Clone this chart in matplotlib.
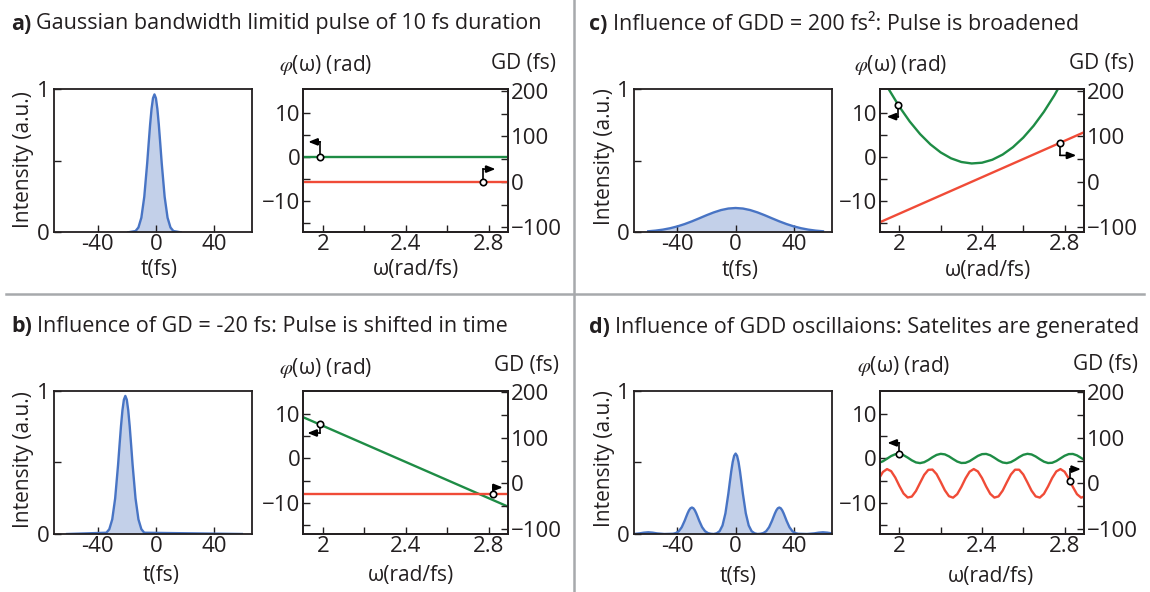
import numpy as np
import matplotlib
matplotlib.use("Agg")
import matplotlib.pyplot as plt
from matplotlib.lines import Line2D
from matplotlib.patches import FancyArrowPatch

plt.rcParams['font.family'] = ['Open Sans', 'DejaVu Sans']
plt.rcParams['mathtext.fontset'] = 'stix'

# ---------------------------------------------------------------- data
titles = [
    ("a)", "Gaussian bandwidth limitid pulse of 10 fs duration"),
    ("b)", "Influence of GD = -20 fs: Pulse is shifted in time"),
    ("c)", "Influence of GDD = 200 fs\u00b2: Pulse is broadened"),
    ("d)", "Influence of GDD oscillaions: Satelites are generated"),
]

t_ticks = [-40, 0, 40]
t_ticklabels = ["-40", "0", "40"]
w_ticks = [2.0, 2.4, 2.8]
w_ticklabels = ["2", "2.4", "2.8"]
phi_ticks = [-10, 0, 10]
phi_ticklabels = ["\u221210", "0", "10"]
gd_ticks = [-100, 0, 100, 200]
gd_ticklabels = ["\u2212100", "0", "100", "200"]

# a) bandwidth-limited pulse
t_a = [-19, -14, -12, -10, -8, -6, -5, -4, -3, -2, -1, 0, 1, 2, 3, 4, 6, 8, 10, 12, 17]
I_a = [0, 0.0089, 0.0337, 0.1021, 0.2480, 0.4825, 0.6193, 0.7519, 0.8637, 0.9386, 0.965,
       0.9386, 0.8637, 0.7519, 0.6193, 0.4825, 0.2480, 0.1021, 0.0337, 0.0089, 0]
w_a = [1.9, 2.9]
phi_a = [0.0, 0.0]
gd_a = [0.0, 0.0]

# b) GD shift
t_b = [-61, -34, -32, -30, -28, -26, -25, -24, -23, -22, -21, -20, -19, -18, -17, -16,
       -14, -12, -10, -8, 59]
I_b = [0, 0.0089, 0.0337, 0.1021, 0.2480, 0.4825, 0.6193, 0.7519, 0.8637, 0.9386, 0.965,
       0.9386, 0.8637, 0.7519, 0.6193, 0.4825, 0.2480, 0.1021, 0.0337, 0.0089, 0]
w_b = [1.9, 2.9]
phi_b = [9.4, -11.0]
gd_b = [-23.5, -23.5]

# c) GDD broadening
t_c = [-60, -55, -50, -45, -40, -35, -30, -25, -20, -15, -10, -5, 0,
       5, 10, 15, 20, 25, 30, 35, 40, 45, 50, 55, 60]
I_c = [0.0071, 0.0117, 0.0186, 0.0284, 0.0413, 0.0576, 0.0767, 0.0978, 0.1194, 0.1393,
       0.1556, 0.1663, 0.170, 0.1663, 0.1556, 0.1393, 0.1194, 0.0978, 0.0767, 0.0576,
       0.0413, 0.0284, 0.0186, 0.0117, 0.0071]
w_c = [1.90, 1.95, 2.00, 2.05, 2.10, 2.15, 2.20, 2.25, 2.30, 2.35, 2.40,
       2.45, 2.50, 2.55, 2.60, 2.65, 2.70, 2.75, 2.80, 2.85, 2.90]
phi_c = [19.48, 15.15, 11.32, 7.99, 5.16, 2.83, 1.00, -0.33, -1.16, -1.49, -1.32,
         -0.65, 0.52, 2.19, 4.36, 7.03, 10.20, 13.87, 18.04, 22.71, 27.88]
w_c_gd = [1.9, 2.9]
gd_c = [-90.0, 110.0]

# d) GDD oscillations
t_d = [-70, -66, -63, -60, -57, -54, -49,
       -43, -41, -39, -37, -35, -34, -33, -32, -31, -30, -29, -28, -27, -26, -25, -23, -21, -19, -17,
       -15,
       -13, -11, -9, -7, -5, -4, -3, -2, -1, 0, 1, 2, 3, 4, 5, 7, 9, 11, 13,
       15,
       17, 19, 21, 23, 25, 26, 27, 28, 29, 30, 31, 32, 33, 34, 35, 37, 39, 41, 43,
       49, 54, 57, 60, 63, 66]
I_d = [0, 0.0044, 0.0094, 0.012, 0.0094, 0.0044, 0,
       0.0017, 0.0065, 0.0196, 0.0476, 0.0925, 0.1187, 0.1441, 0.1656, 0.1799, 0.185,
       0.1799, 0.1656, 0.1441, 0.1187, 0.0925, 0.0476, 0.0196, 0.0065, 0.0017,
       0,
       0.0052, 0.0196, 0.0595, 0.1444, 0.2810, 0.3606, 0.4379, 0.5030, 0.5466, 0.562,
       0.5466, 0.5030, 0.4379, 0.3606, 0.2810, 0.1444, 0.0595, 0.0196, 0.0052,
       0,
       0.0017, 0.0065, 0.0196, 0.0476, 0.0925, 0.1187, 0.1441, 0.1656, 0.1799, 0.185,
       0.1799, 0.1656, 0.1441, 0.1187, 0.0925, 0.0476, 0.0196, 0.0065, 0.0017,
       0, 0.0044, 0.0094, 0.012, 0.0094, 0.0044]
w_d = [1.90, 1.92, 1.94, 1.96, 1.98, 2.00, 2.02, 2.04, 2.06, 2.08, 2.10, 2.12, 2.14,
       2.16, 2.18, 2.20, 2.22, 2.24, 2.26, 2.28, 2.30, 2.32, 2.34, 2.36, 2.38, 2.40,
       2.42, 2.44, 2.46, 2.48, 2.50, 2.52, 2.54, 2.56, 2.58, 2.60, 2.62, 2.64, 2.66,
       2.68, 2.70, 2.72, 2.74, 2.76, 2.78, 2.80, 2.82, 2.84, 2.86, 2.88, 2.90]
phi_d = [-0.996, -0.635, -0.052, 0.550, 0.959, 1.033, 0.746, 0.199, -0.417, -0.890,
         -1.049, -0.843, -0.343, 0.278, 0.801, 1.044, 0.923, 0.479, -0.132, -0.697,
         -1.019, -0.984, -0.606, -0.016, 0.579, 0.973, 1.026, 0.721, 0.164, -0.450,
         -0.907, -1.047, -0.822, -0.309, 0.311, 0.823, 1.047, 0.906, 0.448, -0.167,
         -0.724, -1.027, -0.972, -0.578, 0.019, 0.608, 0.985, 1.018, 0.695, 0.129, -0.482]
gd_d = [9.95, 25.08, 31.46, 26.84, 12.85, -5.64, -22.15, -30.93, -28.90, -16.73,
        1.21, 18.77, 29.77, 30.38, 20.37, 3.24, -15.01, -28.03, -31.25, -23.55,
        -7.63, 10.96, 25.73, 31.50, 26.28, 11.87, -6.68, -22.89, -31.11, -28.45,
        -15.85, 2.27, 19.61, 30.10, 30.08, 19.55, 2.19, -15.94, -28.49, -31.10,
        -22.83, -6.61, 11.94, 26.32, 31.49, 25.68, 10.88, -7.71, -23.61, -31.26, -27.99]

# marker points for the little "which axis" arrows: (omega, value)
mark_phi = {"a": (1.987, 0.0), "b": (1.986, 7.78), "c": (1.995, 11.8), "d": (2.0, 1.03)}
mark_gd = {"a": (2.773, 0.0), "b": (2.820, -23.5), "c": (2.777, 85.0), "d": (2.826, 5.0)}

# ---------------------------------------------------------------- style
W, H = 1150, 592
fig = plt.figure(figsize=(W / 100, H / 100), dpi=100)

INK = '#231f20'
BLUE = '#4874c4'
FILL = '#c3d0e9'
GREEN = '#1e8c45'
RED = '#f04b37'
SEP = '#a7a9ac'
FS_T = 15.5   # titles
FS_K = 16.0   # tick labels
FS_L = 15     # axis labels

T_LIM = (-70, 66)
W_LIM = (1.905, 2.895)
PHI_LIM = (-17.05, 15.25)
GD_LIM = (-111, 203)


def fx(x):
    return x / W


def fy(y):
    return 1 - y / H


def make_axes(x0, x1, y0, y1):
    return fig.add_axes([fx(x0), fy(y1), (x1 - x0) / W, (y1 - y0) / H])


def style_spines(ax):
    for s in ax.spines.values():
        s.set_color(INK)
        s.set_linewidth(1.3)


def intensity_axes(x0, x1, y0, y1, t, I):
    ax = make_axes(x0, x1, y0, y1)
    ax.fill_between(t, 0, I, color=FILL, lw=0, zorder=1)
    ax.plot(t, I, color=BLUE, lw=1.7, zorder=2, solid_joinstyle='round')
    ax.set_xlim(*T_LIM)
    ax.set_ylim(0, 1)
    ax.set_xticks(t_ticks)
    ax.set_xticklabels(t_ticklabels)
    ax.set_yticks([0, 0.5, 1])
    ax.set_yticklabels(["0", "", "1"])
    ax.tick_params(direction='in', length=5, width=1.0, color=INK, labelsize=FS_K,
                   labelcolor=INK, pad=3)
    ax.tick_params(axis='x', pad=1.5)
    style_spines(ax)
    return ax


def phase_axes(x0, x1, y0, y1, w_phi, phi, w_gd, gd):
    ax = make_axes(x0, x1, y0, y1)
    ax2 = ax.twinx()
    ax.plot(w_phi, phi, color=GREEN, lw=1.7, zorder=2)
    ax2.plot(w_gd, gd, color=RED, lw=1.7, zorder=2)
    ax.set_xlim(*W_LIM)
    ax.set_ylim(*PHI_LIM)
    ax2.set_ylim(*GD_LIM)
    ax.set_xticks(w_ticks)
    ax.set_xticklabels(w_ticklabels)
    ax.set_xticks([2.2, 2.6], minor=True)
    ax.set_yticks(phi_ticks)
    ax.set_yticklabels(phi_ticklabels)
    ax.set_yticks([-15, -5, 5], minor=True)
    ax2.set_yticks(gd_ticks)
    ax2.set_yticklabels(gd_ticklabels)
    ax2.set_yticks([-50, 50, 150], minor=True)
    for a in (ax, ax2):
        a.tick_params(which='both', direction='in', length=5, width=1.0, color=INK,
                      labelsize=FS_K, labelcolor=INK, pad=2)
        style_spines(a)
    ax.tick_params(axis='x', which='both', pad=1.5)
    return ax, ax2


def l_arrow(ax, pt, dy, dx):
    """circle on a curve, a short vertical stroke then a horizontal arrow (pixel offsets)"""
    p = ax.transData.transform(pt)
    corner = (p[0], p[1] + dy)
    tip = (p[0] + dx, p[1] + dy)
    inv = ax.transData.inverted()
    c_d = inv.transform(corner)
    t_d_ = inv.transform(tip)
    ax.plot([pt[0], c_d[0]], [pt[1], c_d[1]], color='black', lw=1.2, clip_on=False,
            zorder=6, solid_capstyle='projecting')
    arr = FancyArrowPatch(tuple(c_d), tuple(t_d_),
                          arrowstyle='-|>,head_length=0.55,head_width=0.22',
                          mutation_scale=10, lw=1.2, color='black', shrinkA=0, shrinkB=0,
                          clip_on=False, zorder=6, joinstyle='miter')
    ax.add_patch(arr)
    ax.plot([pt[0]], [pt[1]], 'o', ms=4.6, mfc='white', mec='black', mew=1.2,
            clip_on=False, zorder=7)


def title(x, y, lab, rest):
    t1 = fig.text(fx(x), fy(y), lab, fontsize=FS_T, fontweight='bold', color=INK,
                  ha='left', va='baseline')
    r = fig.canvas.get_renderer()
    bb = t1.get_window_extent(r)
    fig.text(fx(bb.x1 + 5), fy(y), rest, fontsize=FS_T, color=INK, ha='left', va='baseline')


def labels(int_xy, t_xy, w_xy, phi_xy, gd_xy):
    fig.text(fx(int_xy[0]), fy(int_xy[1]), "Intensity (a.u.)", rotation=90, fontsize=FS_L,
             color=INK, ha='center', va='center')
    fig.text(fx(t_xy[0]), fy(t_xy[1]), "t(fs)", fontsize=FS_L, color=INK,
             ha='center', va='center')
    fig.text(fx(w_xy[0]), fy(w_xy[1]), "\u03c9(rad/fs)", fontsize=FS_L, color=INK,
             ha='center', va='center')
    fig.text(fx(phi_xy[0]), fy(phi_xy[1]), "$\\varphi$(\u03c9) (rad)", fontsize=FS_L,
             color=INK, ha='left', va='center')
    fig.text(fx(gd_xy[0]), fy(gd_xy[1]), "GD (fs)", fontsize=FS_L, color=INK,
             ha='right', va='center')


# ---------------------------------------------------------------- panels
TOP = (89.4, 232.3)
BOT = (390.9, 534.0)

# a
intensity_axes(54.0, 252.0, *TOP, t_a, I_a)
axa, axa2 = phase_axes(303.3, 508.3, *TOP, w_a, phi_a, w_a, gd_a)
l_arrow(axa, mark_phi["a"], 15, -12)
l_arrow(axa2, mark_gd["a"], 12.7, 12.5)
title(11, 29.5, *titles[0])
labels((23.8, 160), (159.5, 269.5), (416.2, 269.5), (278.7, 65), (555.6, 63.5))

# b
intensity_axes(54.0, 252.0, *BOT, t_b, I_b)
axb, axb2 = phase_axes(303.3, 508.3, *BOT, w_b, phi_b, w_b, gd_b)
l_arrow(axb, mark_phi["b"], -9, -12.7)
l_arrow(axb2, mark_gd["b"], 6.7, 10)
title(11, 332, *titles[1])
labels((23.8, 460), (161.3, 575.3), (410.7, 575.3), (278.7, 367.7), (559.2, 366))

# c
intensity_axes(633.7, 831.7, *TOP, t_c, I_c)
axc, axc2 = phase_axes(879.8, 1084.2, *TOP, w_c, phi_c, w_c_gd, gd_c)
l_arrow(axc, mark_phi["c"], -12, -11.7)
l_arrow(axc2, mark_gd["c"], -12.3, 16.5)
title(589.5, 29.5, *titles[2])
labels((604.3, 157), (740, 270.5), (987.5, 270.5), (853.7, 65), (1134.2, 63.5))

# d
intensity_axes(633.7, 831.7, *BOT, t_d, I_d)
axd, axd2 = phase_axes(879.8, 1084.2, *BOT, w_d, phi_d, w_d, gd_d)
l_arrow(axd, mark_phi["d"], 11, -12)
l_arrow(axd2, mark_gd["d"], 12, 11)
title(589.5, 333, *titles[3])
labels((604.3, 459), (738.2, 576.5), (991.2, 576.5), (857.4, 366), (1137.9, 364.3))

# separators
fig.add_artist(Line2D([fx(574), fx(574)], [0, 1], color=SEP, lw=1.8))
fig.add_artist(Line2D([fx(6), fx(1144)], [fy(294), fy(294)], color=SEP, lw=1.8))

fig.savefig("out.png", dpi=100)
